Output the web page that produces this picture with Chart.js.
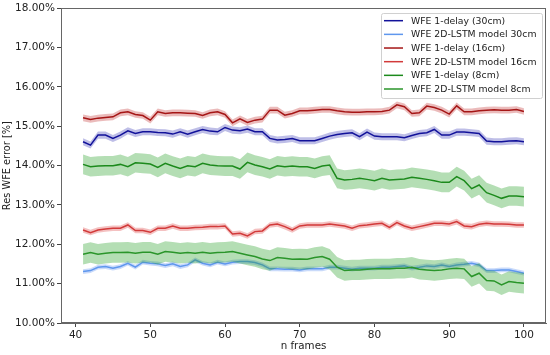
<!DOCTYPE html>
<html><head><meta charset="utf-8">
<style>html,body{margin:0;padding:0;background:#fff}#wrap{width:550px;height:355px}</style>
<script src="https://cdn.jsdelivr.net/npm/chart.js@4.4.1/dist/chart.umd.min.js"></script>
</head><body><div id="wrap"><canvas id="c" width="550" height="355"></canvas></div>
<script>
const frames = [41,42,43,44,45,46,47,48,49,50,51,52,53,54,55,56,57,58,59,60,61,62,63,64,65,66,67,68,69,70,71,72,73,74,75,76,77,78,79,80,81,82,83,84,85,86,87,88,89,90,91,92,93,94,95,96,97,98,99,100];
const xTicks = [40,50,60,70,80,90,100];
const yTicks = [10,11,12,13,14,15,16,17,18];

const delay30 = [14.607,14.523,14.777,14.777,14.692,14.777,14.887,14.819,14.861,14.861,14.844,14.836,14.802,14.861,14.802,14.861,14.920,14.878,14.861,14.971,14.904,14.887,14.929,14.861,14.861,14.692,14.650,14.667,14.692,14.633,14.633,14.633,14.692,14.751,14.794,14.819,14.836,14.735,14.853,14.751,14.734,14.734,14.734,14.709,14.768,14.819,14.836,14.920,14.777,14.777,14.853,14.853,14.836,14.819,14.624,14.607,14.607,14.624,14.633,14.607];
const lstm30 = [11.308,11.333,11.418,11.435,11.393,11.435,11.519,11.418,11.545,11.519,11.503,11.460,11.503,11.435,11.477,11.604,11.519,11.477,11.545,11.503,11.545,11.562,11.562,11.536,11.477,11.376,11.376,11.367,11.367,11.350,11.376,11.376,11.376,11.418,11.418,11.393,11.367,11.393,11.393,11.393,11.418,11.418,11.435,11.452,11.393,11.418,11.452,11.435,11.477,11.435,11.477,11.494,11.519,11.477,11.333,11.333,11.350,11.350,11.308,11.266];
const delay16 = [15.216,15.174,15.208,15.225,15.242,15.343,15.368,15.301,15.275,15.157,15.368,15.326,15.343,15.343,15.335,15.326,15.275,15.343,15.368,15.301,15.089,15.191,15.098,15.157,15.183,15.411,15.411,15.284,15.326,15.394,15.394,15.411,15.428,15.428,15.394,15.368,15.360,15.360,15.368,15.368,15.377,15.411,15.547,15.496,15.326,15.343,15.513,15.479,15.411,15.310,15.521,15.368,15.368,15.394,15.411,15.419,15.411,15.411,15.428,15.377];
const lstm16 = [12.365,12.298,12.365,12.391,12.408,12.408,12.492,12.349,12.349,12.306,12.408,12.408,12.467,12.408,12.408,12.425,12.433,12.450,12.450,12.467,12.264,12.281,12.213,12.323,12.340,12.492,12.518,12.450,12.365,12.467,12.492,12.492,12.492,12.518,12.492,12.467,12.408,12.475,12.492,12.518,12.535,12.433,12.552,12.467,12.408,12.450,12.492,12.535,12.535,12.518,12.577,12.467,12.450,12.509,12.535,12.518,12.518,12.509,12.492,12.492];
const delay8 = [14.032,13.973,13.990,13.998,13.998,14.032,13.973,14.074,14.058,14.041,13.956,14.058,13.990,13.931,13.998,13.973,14.058,14.015,13.998,13.990,13.990,13.914,14.083,14.015,13.973,13.914,13.998,13.973,13.990,13.973,13.973,13.931,13.990,14.015,13.677,13.635,13.651,13.677,13.651,13.618,13.677,13.635,13.651,13.660,13.702,13.677,13.651,13.618,13.575,13.575,13.719,13.618,13.415,13.508,13.313,13.245,13.169,13.228,13.228,13.211];
const lstm8 = [11.748,11.790,11.748,11.773,11.790,11.790,11.799,11.773,11.799,11.799,11.748,11.816,11.799,11.773,11.790,11.773,11.799,11.773,11.790,11.799,11.816,11.773,11.731,11.689,11.629,11.587,11.663,11.646,11.621,11.629,11.621,11.663,11.689,11.621,11.418,11.333,11.350,11.350,11.367,11.376,11.376,11.376,11.393,11.393,11.418,11.367,11.350,11.333,11.350,11.376,11.393,11.376,11.181,11.266,11.079,11.070,10.970,11.054,11.029,11.012];

// half-widths of the shaded bands
const bandDelay30 = 0.09, bandLstm30 = 0.06, bandDelay16 = 0.085, bandLstm16 = 0.07, bandDelay8 = 0.25, bandLstm8 = 0.26;

const series = [
  {label:'WFE 1-delay (30cm)', v:delay30, b:bandDelay30, line:'#12129a', fill:'rgba(20,20,170,0.28)'},
  {label:'WFE 2D-LSTM model 30cm', v:lstm30, b:bandLstm30, line:'#5f97ee', fill:'rgba(100,150,240,0.35)'},
  {label:'WFE 1-delay (16cm)', v:delay16, b:bandDelay16, line:'#a51616', fill:'rgba(190,30,30,0.3)'},
  {label:'WFE 2D-LSTM model 16cm', v:lstm16, b:bandLstm16, line:'#d23a3a', fill:'rgba(220,50,50,0.3)'},
  {label:'WFE 1-delay (8cm)', v:delay8, b:bandDelay8, line:'#1c8a1c', fill:'rgba(40,160,40,0.35)'},
  {label:'WFE 2D-LSTM model 8cm', v:lstm8, b:bandLstm8, line:'#2a952a', fill:'rgba(40,160,40,0.35)'}
];

const datasets = [];
series.forEach(s => {
  datasets.push({isBand:true, data: s.v.map((y,i)=>({x:frames[i], y:y+s.b})), borderWidth:0, pointRadius:0, fill:'+1', backgroundColor:s.fill, tension:0});
  datasets.push({isBand:true, data: s.v.map((y,i)=>({x:frames[i], y:y-s.b})), borderWidth:0, pointRadius:0, fill:false, backgroundColor:s.fill, tension:0});
  datasets.push({label:s.label, data: s.v.map((y,i)=>({x:frames[i], y:y})), borderColor:s.line, borderWidth:1.5, pointRadius:0, fill:false, tension:0});
});
datasets.forEach((d,i)=>{ d.order = 100 - i; });

const FONT = 'DejaVu Sans';

const framePlugin = {
  id:'frame',
  afterDatasetsDraw(chart){
    const {ctx, chartArea:a} = chart;
    ctx.save();
    ctx.strokeStyle = '#666';
    ctx.lineWidth = 1;
    ctx.strokeRect(Math.round(a.left)+0.5, Math.round(a.top)+0.5, Math.round(a.right-a.left)-1, Math.round(a.bottom-a.top)-1);
    ctx.restore();
  }
};

const legendPlugin = {
  id:'customLegend',
  afterDraw(chart){
    const ctx = chart.ctx;
    const x0 = 381, y0 = 13, w = 161, h = 85;
    ctx.save();
    ctx.fillStyle = 'rgba(255,255,255,0.85)';
    ctx.strokeStyle = '#d0d0d0';
    ctx.lineWidth = 1;
    ctx.beginPath();
    if (ctx.roundRect) ctx.roundRect(x0+0.5, y0+0.5, w, h, 2); else ctx.rect(x0+0.5, y0+0.5, w, h);
    ctx.fill(); ctx.stroke();
    ctx.font = '9.3px "' + FONT + '"';
    ctx.textBaseline = 'middle';
    ctx.textAlign = 'left';
    series.forEach((s,i)=>{
      const y = 20.7 + i*13.66;
      ctx.strokeStyle = s.line; ctx.lineWidth = 1.5;
      ctx.beginPath(); ctx.moveTo(384, y); ctx.lineTo(403, y); ctx.stroke();
      ctx.fillStyle = '#1a1a1a';
      ctx.fillText(s.label, 411, y+0.5);
    });
    ctx.restore();
  }
};

new Chart(document.getElementById('c'), {
  type:'line',
  data:{datasets},
  options:{
    responsive:false,
    animation:false,
    devicePixelRatio:1,
    layout:{padding:{top:8,right:4,left:0,bottom:0}},
    plugins:{legend:{display:false}, tooltip:{enabled:false}, filler:{propagate:false}},
    scales:{
      x:{
        type:'linear', min:38.05, max:102.95,
        afterBuildTicks(sc){ sc.ticks = xTicks.map(v=>({value:v})); },
        afterFit(sc){ sc.height = 32; },
        grid:{display:true, drawOnChartArea:false, drawTicks:true, tickLength:4, tickColor:'#444'},
        border:{display:true, color:'#666', width:1},
        ticks:{font:{family:FONT, size:10.5}, color:'#222', padding:2, maxRotation:0, callback:v=>String(v)},
        title:{display:true, text:'n frames', font:{family:FONT, size:10.3}, color:'#222', padding:{top:0,bottom:2}}
      },
      y:{
        type:'linear', min:10, max:18,
        afterBuildTicks(sc){ sc.ticks = yTicks.map(v=>({value:v})); },
        afterFit(sc){ sc.width = 61; },
        grid:{display:true, drawOnChartArea:false, drawTicks:true, tickLength:4, tickColor:'#444'},
        border:{display:true, color:'#666', width:1},
        ticks:{font:{family:FONT, size:10.5}, color:'#222', padding:2, callback:v=>v.toFixed(2)+'%'},
        title:{display:true, text:'Res WFE error [%]', font:{family:FONT, size:9.8}, color:'#222', padding:{top:2,bottom:0}}
      }
    }
  },
  plugins:[framePlugin, legendPlugin]
});
</script>
</body></html>
